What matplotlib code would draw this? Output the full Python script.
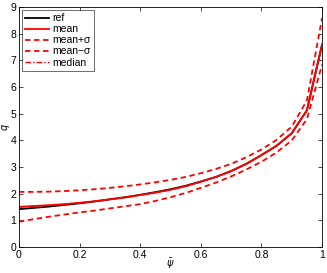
import numpy as np
import matplotlib
matplotlib.use("Agg")
import matplotlib.pyplot as plt

plt.rcParams['font.family'] = ['Liberation Sans', 'DejaVu Sans']

# psi-bar grid and values
psi = [0, 0.05, 0.1, 0.15, 0.2, 0.25, 0.3, 0.35, 0.4, 0.45, 0.5,
       0.55, 0.6, 0.65, 0.7, 0.75, 0.8, 0.85, 0.9, 0.95, 1.0]
q_ref = [1.42, 1.47, 1.52, 1.58, 1.64, 1.71, 1.79, 1.87, 1.96, 2.06, 2.17,
         2.30, 2.46, 2.63, 2.85, 3.12, 3.45, 3.80, 4.27, 5.13, 7.60]
q_mean = [1.51, 1.54, 1.57, 1.61, 1.66, 1.72, 1.79, 1.86, 1.95, 2.04, 2.15,
          2.28, 2.45, 2.63, 2.85, 3.12, 3.45, 3.80, 4.27, 5.13, 7.60]
q_plus = [2.07, 2.07, 2.08, 2.10, 2.13, 2.17, 2.22, 2.28, 2.35, 2.43, 2.52,
          2.63, 2.77, 2.93, 3.12, 3.37, 3.66, 4.02, 4.52, 5.50, 8.60]
q_minus = [0.95, 1.05, 1.14, 1.22, 1.30, 1.37, 1.45, 1.53, 1.61, 1.73, 1.87,
           2.03, 2.22, 2.42, 2.65, 2.91, 3.20, 3.55, 4.00, 4.80, 6.85]
q_median = [1.50, 1.53, 1.57, 1.61, 1.66, 1.72, 1.79, 1.86, 1.95, 2.04, 2.15,
            2.28, 2.45, 2.63, 2.85, 3.12, 3.45, 3.80, 4.27, 5.13, 7.58]

fig = plt.figure(figsize=(3.27, 2.73), dpi=100)
ax = fig.add_axes([0.058, 0.095, 0.927, 0.879])

ax.plot(psi, q_ref, color='k', lw=1.3, label='ref')
ax.plot(psi, q_mean, color='r', lw=1.3, label='mean')
ax.plot(psi, q_plus, color='r', lw=1.3, ls=(0, (3, 2)), label='mean+\u03c3')
ax.plot(psi, q_minus, color='r', lw=1.3, ls=(0, (3, 2)), label='mean\u2212\u03c3')
ax.plot(psi, q_median, color='r', lw=1.0, ls=(0, (4, 1.5, 1, 1.5)), label='median')

ax.set_xlim(0, 1)
ax.set_ylim(0, 9)
ax.set_xticks([0, 0.2, 0.4, 0.6, 0.8, 1])
ax.set_xticklabels(['0', '0.2', '0.4', '0.6', '0.8', '1'])
ax.set_yticks(range(10))
ax.tick_params(direction='in', length=3, width=0.5, labelsize=7.5,
               top=True, right=True, pad=2)
for s in ax.spines.values():
    s.set_linewidth(0.6)

ax.set_xlabel(r'$\bar{\psi}$', fontsize=7)
ax.set_ylabel(r'$q$', fontsize=7)
ax.xaxis.set_label_coords(0.5, -0.04)
ax.yaxis.set_label_coords(-0.022, 0.5)

leg = ax.legend(loc='upper left', fontsize=7.5, frameon=True, fancybox=False,
                handlelength=2.3, handletextpad=0.3, borderpad=0.3,
                labelspacing=0.1, borderaxespad=0.3)
leg.get_frame().set_edgecolor('k')
leg.get_frame().set_linewidth(0.5)

fig.savefig('out.png', dpi=100)
